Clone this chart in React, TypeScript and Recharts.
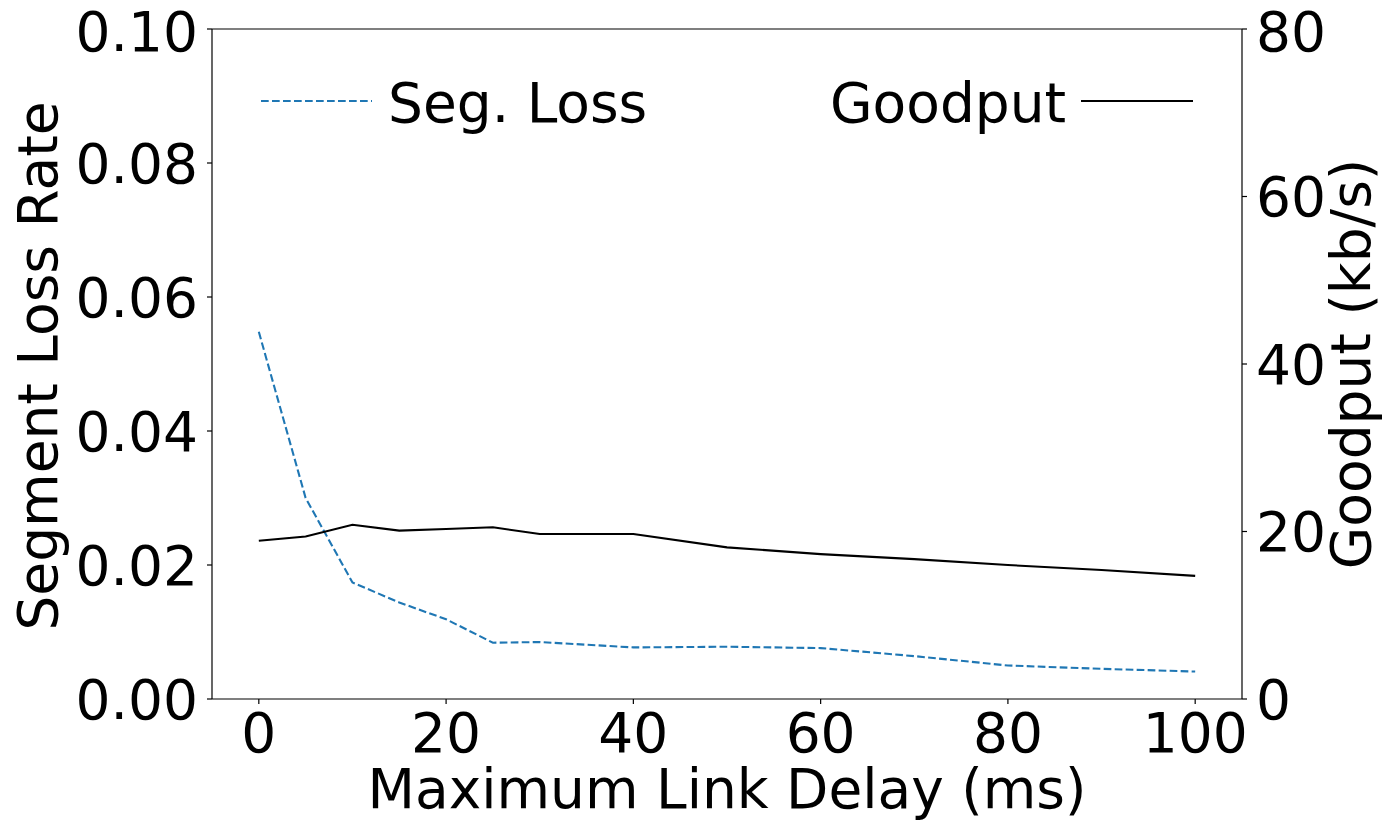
import React from 'react';
import { LineChart, Line, XAxis, YAxis, ReferenceLine } from 'recharts';

const delays = [0, 5, 10, 15, 20, 25, 30, 40, 50, 60, 70, 80, 90, 100];
const segLoss = [0.0548, 0.030, 0.0174, 0.0144, 0.0119, 0.0084, 0.0085, 0.0077, 0.0078, 0.0076, 0.0064, 0.0050, 0.0045, 0.0041];
const goodput = [18.9, 19.4, 20.8, 20.1, 20.3, 20.5, 19.7, 19.7, 18.1, 17.3, 16.7, 16.0, 15.4, 14.7];

const xTicks = [0, 20, 40, 60, 80, 100];
const leftTicks = [0, 0.02, 0.04, 0.06, 0.08, 0.1];
const rightTicks = [0, 20, 40, 60, 80];

const xLabel = 'Maximum Link Delay (ms)';
const leftLabel = 'Segment Loss Rate';
const rightLabel = 'Goodput (kb/s)';
const lossName = 'Seg. Loss';
const goodputName = 'Goodput';

const data = delays.map((d, i) => ({ delay: d, loss: segLoss[i], goodput: goodput[i] }));

const FONT = 'DejaVu Sans';
const FS = 55;
const tickStyle = { fill: '#000', fontSize: FS, fontFamily: FONT };
const BLUE = '#1f77b4';

export default function App() {
  return (
    <div style={{ position: 'absolute', left: 0, top: 0, width: 1384, height: 821, background: '#fff' }}>
      <LineChart
        width={1384}
        height={821}
        data={data}
        margin={{ top: 29, right: 32, left: 62, bottom: 22 }}
      >
        <XAxis
          dataKey="delay"
          type="number"
          domain={[-5, 105]}
          ticks={xTicks}
          allowDataOverflow
          height={100}
          tick={tickStyle}
          tickSize={5}
          tickMargin={9}
          axisLine={{ stroke: '#000', strokeWidth: 1.2 }}
          tickLine={{ stroke: '#000', strokeWidth: 1.2 }}
        />
        <YAxis
          yAxisId="left"
          orientation="left"
          domain={[0, 0.1]}
          ticks={leftTicks}
          width={150}
          tick={tickStyle}
          tickFormatter={(v: number) => v.toFixed(2)}
          tickSize={5}
          tickMargin={9}
          allowDataOverflow
          axisLine={{ stroke: '#000', strokeWidth: 1.2 }}
          tickLine={{ stroke: '#000', strokeWidth: 1.2 }}
        />
        <YAxis
          yAxisId="right"
          orientation="right"
          domain={[0, 80]}
          ticks={rightTicks}
          width={110}
          tick={tickStyle}
          tickSize={5}
          tickMargin={9}
          allowDataOverflow
          axisLine={{ stroke: '#000', strokeWidth: 1.2 }}
          tickLine={{ stroke: '#000', strokeWidth: 1.2 }}
        />
        <ReferenceLine yAxisId="left" y={0.1} stroke="#000" strokeWidth={1.2} ifOverflow="extendDomain" />
        <Line
          yAxisId="left"
          dataKey="loss"
          stroke={BLUE}
          strokeWidth={2.1}
          strokeDasharray="7.7 3.3"
          dot={false}
          activeDot={false}
          isAnimationActive={false}
        />
        <Line
          yAxisId="right"
          dataKey="goodput"
          stroke="#000"
          strokeWidth={2.1}
          dot={false}
          activeDot={false}
          isAnimationActive={false}
        />
      </LineChart>
      <svg
        width={1384}
        height={821}
        style={{ position: 'absolute', left: 0, top: 0, pointerEvents: 'none' }}
        fontFamily={FONT}
        fontSize={FS}
      >
        <line x1={261} y1={101} x2={372} y2={101} stroke={BLUE} strokeWidth={2.1} strokeDasharray="7.7 3.3" />
        <text x={388} y={122} fill="#000">{lossName}</text>
        <text x={830} y={122} fill="#000">{goodputName}</text>
        <line x1={1081} y1={101} x2={1193} y2={101} stroke="#000" strokeWidth={2.1} />
        <text x={727} y={808} textAnchor="middle" fill="#000">{xLabel}</text>
        <text x={57} y={366} textAnchor="middle" fill="#000" transform="rotate(-90 57 366)">{leftLabel}</text>
        <text x={1370} y={364} textAnchor="middle" fill="#000" transform="rotate(-90 1370 364)">{rightLabel}</text>
      </svg>
    </div>
  );
}
